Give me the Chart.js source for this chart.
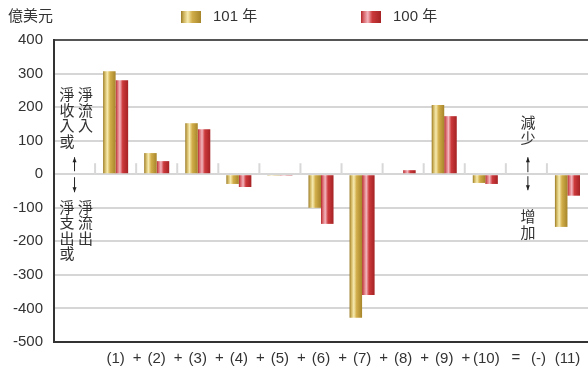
<!DOCTYPE html>
<html>
<head>
<meta charset="utf-8">
<script src="https://cdn.jsdelivr.net/npm/chart.js@4"></script>
<style>
  html, body { margin: 0; padding: 0; background: #fff; }
  canvas { display: block; }
</style>
</head>
<body>
<canvas id="c" width="588" height="370"></canvas>
<script>
// Balance-of-payments components, 億美元 (101年 vs 100年)
const categories = ["", "(1)", "(2)", "(3)", "(4)", "(5)", "(6)", "(7)", "(8)", "(9)", "(10)", "(-)", "(11)"];
const operators  = ["", "", "+", "+", "+", "+", "+", "+", "+", "+", "+", "=", ""];
const series101  = [null, 307, 63, 152, -29, -4, -100, -428, 3, 206, -26, null, -157];
const series100  = [null, 280, 39, 134, -38, -4, -148, -360, 12, 173, -29, null, -64];
const seriesNames = ["101 年", "100 年"];
const yTicks = [400, 300, 200, 100, 0, -100, -200, -300, -400, -500];

const FONT = '"Liberation Sans", Arial, "Noto Sans CJK TC", sans-serif';
const CJK = '"Noto Sans CJK TC", "Liberation Sans", sans-serif';
const TEXT = '#333';
const CAT_PCT = 0.61;

const goldStops = [[0, '#9a7a26'], [0.14, '#cfb45e'], [0.34, '#f7ebb0'], [0.56, '#d2ae4a'], [1, '#a6852a']];
const redStops  = [[0, '#b3282a'], [0.14, '#d9676d'], [0.34, '#f3b6be'], [0.56, '#cc3a3c'], [1, '#a52224']];

function hGradient(ctx, left, width, stops) {
  const g = ctx.createLinearGradient(left, 0, left + width, 0);
  stops.forEach(s => g.addColorStop(s[0], s[1]));
  return g;
}

// Per-bar horizontal gradient, placed from the category scale
function barFill(stops, side, flat) {
  return (c) => {
    const xs = c.chart.scales && c.chart.scales.x;
    if (!xs || c.dataIndex === undefined || !isFinite(xs.width) || xs.width <= 0) return flat;
    const slot = xs.width / categories.length;
    const w = slot * CAT_PCT / 2;
    const center = xs.getPixelForValue(c.dataIndex);
    const left = side === 0 ? center - w : center;
    return hGradient(c.chart.ctx, left, w, stops);
  };
}

const decorations = {
  id: 'decorations',
  beforeDatasetsDraw(chart) {
    // short dividers between categories, sitting on the zero line
    const { ctx } = chart;
    const xs = chart.scales.x, ys = chart.scales.y;
    const slot = xs.width / categories.length;
    const y0 = ys.getPixelForValue(0);
    ctx.save();
    ctx.strokeStyle = '#d8d8d8';
    ctx.lineWidth = 2;
    for (let i = 1; i < categories.length; i++) {
      const bx = xs.getPixelForValue(i) - slot / 2;
      ctx.beginPath();
      ctx.moveTo(bx, y0 - 11);
      ctx.lineTo(bx, y0);
      ctx.stroke();
    }
    ctx.restore();
  },
  afterDraw(chart) {
    const { ctx } = chart;
    const xs = chart.scales.x, ys = chart.scales.y;
    const slot = xs.width / categories.length;
    const y0 = ys.getPixelForValue(0);
    const bottom = chart.chartArea.bottom;
    ctx.save();
    ctx.fillStyle = TEXT;
    ctx.textBaseline = 'middle';

    // unit label
    ctx.font = '15px ' + FONT;
    ctx.textAlign = 'left';
    ctx.fillText('億美元', 8, 17);

    // legend
    const legendItems = [
      { x: 181, stops: goldStops, label: seriesNames[0] },
      { x: 361, stops: redStops, label: seriesNames[1] }
    ];
    legendItems.forEach(it => {
      ctx.fillStyle = hGradient(ctx, it.x, 20, it.stops);
      ctx.fillRect(it.x, 11, 20, 12);
      ctx.fillStyle = TEXT;
      ctx.font = '15px ' + FONT;
      ctx.fillText(it.label, it.x + 32, 17);
    });

    // category labels and the operators between them
    ctx.font = '15px ' + FONT;
    ctx.textAlign = 'center';
    const ly = bottom + 17;
    categories.forEach((lab, i) => {
      const cx = xs.getPixelForValue(i);
      const dx = lab === '(-)' ? 12 : (lab === '(10)' ? 1 : 0);
      if (lab) ctx.fillText(lab, cx + dx, ly);
      const op = operators[i];
      if (op) {
        const odx = op === '=' ? 10 : 1;
        ctx.fillText(op, cx - slot / 2 + odx, ly - 1);
      }
    });

    // vertical annotations
    const column = (chars, x, yFirst, pitch) => {
      ctx.font = '15px ' + CJK;
      ctx.textAlign = 'center';
      chars.split('').forEach((ch, k) => ctx.fillText(ch, x, yFirst + k * pitch));
    };
    const arrow = (x, yFrom, yTo) => {
      const dir = yTo < yFrom ? -1 : 1;
      ctx.strokeStyle = '#222';
      ctx.lineWidth = 1;
      ctx.beginPath();
      ctx.moveTo(x, yFrom);
      ctx.lineTo(x, yTo);
      ctx.stroke();
      ctx.fillStyle = '#222';
      ctx.beginPath();
      ctx.moveTo(x, yTo);
      ctx.lineTo(x - 2, yTo - dir * 5);
      ctx.lineTo(x + 2, yTo - dir * 5);
      ctx.closePath();
      ctx.fill();
      ctx.fillStyle = TEXT;
    };

    const xl = xs.getPixelForValue(0);
    column('淨收入或', xl - 7.5, y0 - 79.5, 15.4);
    column('淨流入', xl + 11, y0 - 79.5, 15.4);
    arrow(xl, y0 - 3, y0 - 17);
    arrow(xl, y0 + 3, y0 + 18);
    column('淨支出或', xl - 7.5, y0 + 33, 15.4);
    column('淨流出', xl + 11, y0 + 33, 15.4);

    const xr = xs.getPixelForValue(11) + 1.5;
    column('減少', xr, y0 - 51.5, 15.5);
    arrow(xr, y0 - 2, y0 - 17);
    arrow(xr, y0 + 2, y0 + 16);
    column('增加', xr, y0 + 42.5, 16);

    ctx.restore();
  }
};

new Chart(document.getElementById('c'), {
  type: 'bar',
  data: {
    labels: categories,
    datasets: [
      { label: seriesNames[0], data: series101, backgroundColor: barFill(goldStops, 0, '#c9a640'), borderWidth: 0 },
      { label: seriesNames[1], data: series100, backgroundColor: barFill(redStops, 1, '#c43234'), borderWidth: 0 }
    ]
  },
  options: {
    responsive: false,
    animation: false,
    events: [],
    layout: { padding: { left: 0, right: 0, top: 40, bottom: 28 } },
    datasets: { bar: { categoryPercentage: CAT_PCT, barPercentage: 1.0 } },
    plugins: { legend: false, tooltip: { enabled: false } },
    scales: {
      x: {
        grid: { display: false },
        ticks: { display: false },
        border: { display: true, color: '#333', width: 2 },
        afterFit(s) { s.height = 0; }
      },
      y: {
        min: yTicks[yTicks.length - 1],
        max: yTicks[0],
        afterBuildTicks(s) { s.ticks = yTicks.map(v => ({ value: v })); },
        afterFit(s) { s.width = 54; },
        ticks: {
          padding: 11,
          color: TEXT,
          font: { family: FONT, size: 15 }
        },
        grid: {
          drawTicks: false,
          lineWidth: 2,
          color: (c) => c.tick && c.tick.value === yTicks[0] ? '#555' :
                        (c.tick && c.tick.value === yTicks[yTicks.length - 1] ? '#333' : '#d6d6d6')
        },
        border: { display: true, color: '#333', width: 2 }
      }
    }
  },
  plugins: [decorations]
});
</script>
</body>
</html>
